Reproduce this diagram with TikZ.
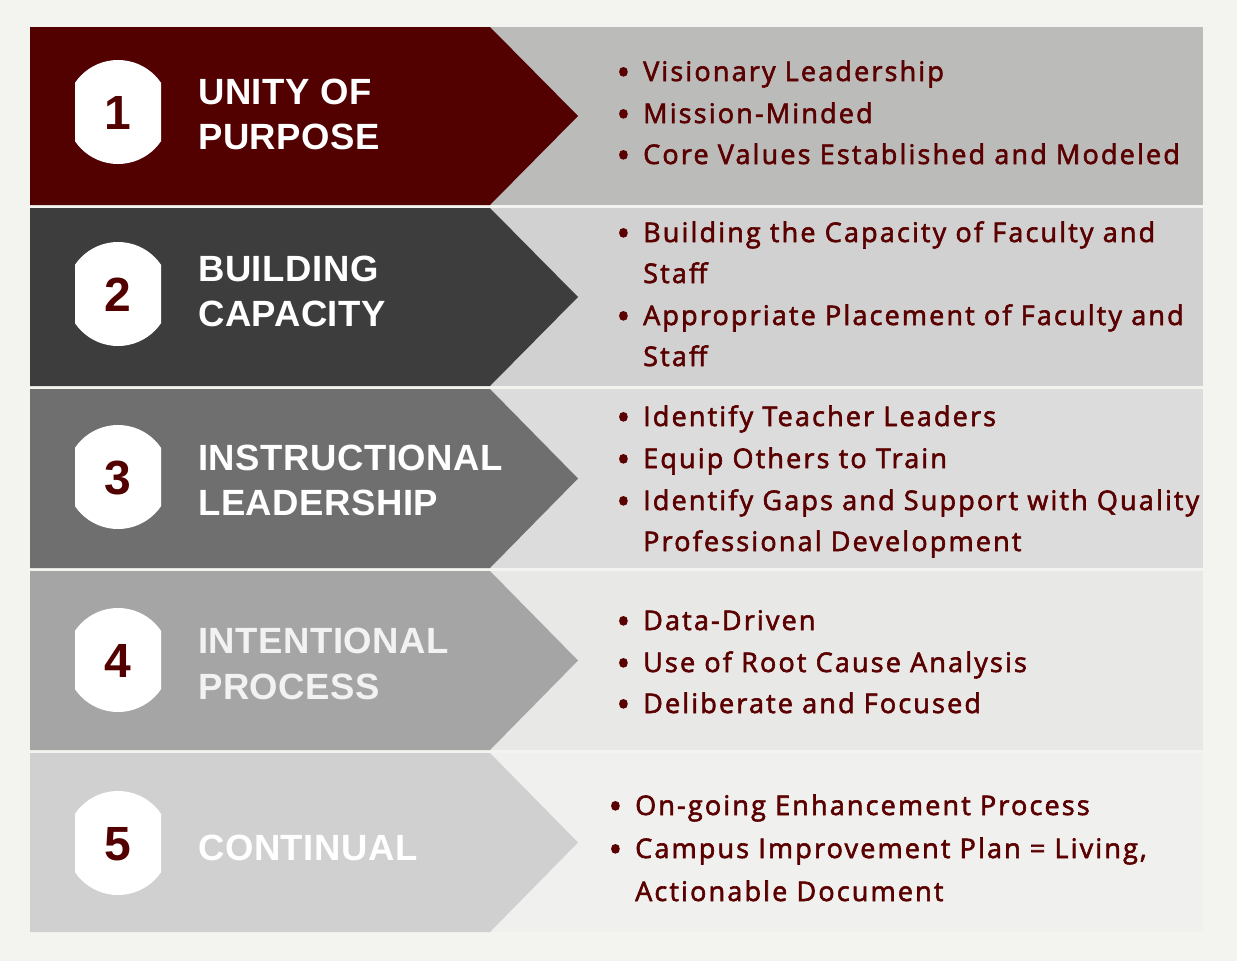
\documentclass[tikz,border=0pt]{standalone}
\usepackage{fontspec}
\setmainfont{Liberation Sans}
\newfontfamily\titlefont[LetterSpace=1.5]{Liberation Sans}
\newfontfamily\itemfont[LetterSpace=8,FakeBold=2.2]{Open Sans}
\definecolor{bgc}{HTML}{F3F3EF}
\definecolor{maroon}{HTML}{520000}
\definecolor{txtred}{HTML}{5A0000}
\definecolor{lA}{HTML}{520000}
\definecolor{lB}{HTML}{3D3D3D}
\definecolor{lC}{HTML}{6F6F6F}
\definecolor{lD}{HTML}{A5A5A5}
\definecolor{lE}{HTML}{D0D0D0}
\definecolor{rA}{HTML}{BBBBBA}
\definecolor{rB}{HTML}{D1D1D1}
\definecolor{rC}{HTML}{DCDCDC}
\definecolor{rD}{HTML}{E8E8E6}
\definecolor{rE}{HTML}{F0F0EE}
\tikzset{
  title/.style={anchor=base west, inner sep=0pt, text=white, font=\titlefont\bfseries\fontsize{36.5}{40}\selectfont},
  num/.style={anchor=center, inner sep=0pt, text=maroon, font=\bfseries\fontsize{48}{50}\selectfont},
  item/.style={anchor=base west, inner sep=0pt, text=txtred, font=\itemfont\fontsize{27}{30}\selectfont},
}
\newcommand{\bul}{\makebox[0pt][r]{\raisebox{-4pt}{\fontsize{36}{36}\selectfont\textbullet}\hspace{13pt}}}
\begin{document}
\begin{tikzpicture}[x=1pt,y=-1pt]
\useasboundingbox (0,0) rectangle (1237,961);
\fill[bgc] (0,0) rectangle (1237,961);
% rows: top, bottom, left colour, right colour
\foreach \t/\b/\lc/\rc in {27/205/lA/rA, 208/386/lB/rB, 389/568/lC/rC, 571/750/lD/rD, 753/932/lE/rE}{
  \fill[\rc] (490,\t) rectangle (1203,\b);
  \fill[\lc] (30,\t) rectangle (490,\b) -- (490,\t) -- (578,{(\t+\b)/2}) -- (490,\b) -- cycle;
}
% badges
\foreach \cy in {112,294,477,660,843}{
  \begin{scope}
    \clip (75,\cy-60) rectangle (161,\cy+60);
    \fill[white] (118,\cy) circle (52);
  \end{scope}
}
\node[num] (n1) at (118,113) {1};
\node[num] (n2) at (118,295) {2};
\node[num] (n3) at (118,478) {3};
\node[num] (n4) at (118,661) {4};
\node[num] (n5) at (118,844) {5};
% titles
\node[title] (t1a) at (198,104) {UNITY OF};
\node[title] (t1b) at (198,149) {PURPOSE};
\node[title] (t2a) at (198,281) {BUILDING};
\node[title] (t2b) at (198,326) {CAPACITY};
\node[title] (t3a) at (198,470) {INSTRUCTIONAL};
\node[title] (t3b) at (198,515) {LEADERSHIP};
\node[title, text=white!95!black] (t4a) at (198,653) {INTENTIONAL};
\node[title, text=white!95!black] (t4b) at (198,699) {PROCESS};
\node[title] (t5a) at (198,860) {CONTINUAL};
% items
\node[item] (i1a) at (643,81) {\bul Visionary Leadership};
\node[item] (i1b) at (643,123) {\bul Mission-Minded};
\node[item] (i1c) at (643,164) {\bul Core Values Established and Modeled};
\node[item] (i2a) at (643,242) {\bul Building the Capacity of Faculty and};
\node[item] (i2b) at (643,283) {Staff};
\node[item] (i2c) at (643,325) {\bul Appropriate Placement of Faculty and};
\node[item] (i2d) at (643,366) {Staff};
\node[item] (i3a) at (643,426) {\bul Identify Teacher Leaders};
\node[item] (i3b) at (643,468) {\bul Equip Others to Train};
\node[item] (i3c) at (643,510) {\bul Identify Gaps and Support with Quality};
\node[item] (i3d) at (643,551) {Professional Development};
\node[item] (i4a) at (643,630) {\bul Data-Driven};
\node[item] (i4b) at (643,672) {\bul Use of Root Cause Analysis};
\node[item] (i4c) at (643,713) {\bul Deliberate and Focused};
\node[item] (i5a) at (635,815) {\bul On-going Enhancement Process};
\node[item] (i5b) at (635,858) {\bul Campus Improvement Plan = Living,};
\node[item] (i5c) at (635,901) {Actionable Document};
\end{tikzpicture}
\end{document}
